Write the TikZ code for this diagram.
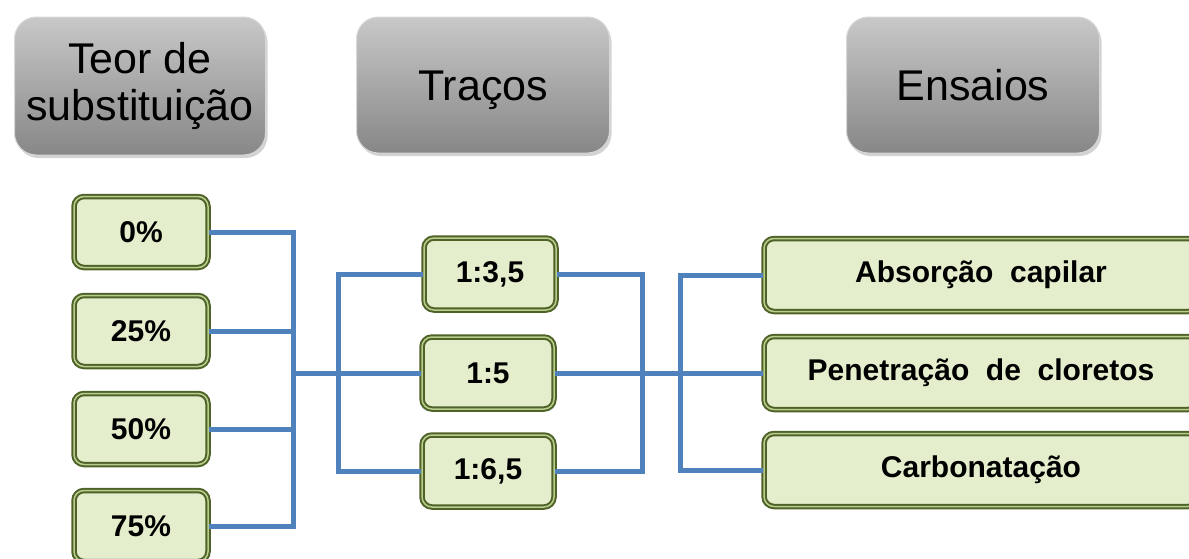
\documentclass[tikz,border=0pt]{standalone}
\usepackage{fontspec}
\setmainfont{Liberation Sans}
\usetikzlibrary{shadows}
\definecolor{linkblue}{RGB}{79,129,189}
\definecolor{boxolive}{RGB}{79,98,40}
\definecolor{boxgreen}{RGB}{228,238,204}
\definecolor{rimgreen}{RGB}{185,205,140}
\definecolor{graytop}{RGB}{200,200,200}
\definecolor{graybot}{RGB}{135,135,135}
\tikzset{
  headbox/.style={rounded corners=22pt, top color=graytop, bottom color=graybot,
    draw={rgb,255:red,215;green,215;blue,215}, line width=1pt,
    drop shadow={opacity=0.35, shadow xshift=2pt, shadow yshift=-3pt},
    align=center, font=\fontsize{43}{47}\selectfont, inner sep=0pt},
  oneline/.style={text height=31pt, text depth=0pt},
  greenbox/.style={rounded corners=10pt, fill=boxgreen, draw=boxolive, line width=2pt,
    double=rimgreen, double distance=1.5pt,
    font=\fontsize{30}{34}\selectfont\bfseries, inner sep=0pt},
  link/.style={draw=linkblue, line width=5pt}
}
\begin{document}
\begin{tikzpicture}[x=1pt,y=-1pt]
\useasboundingbox (0,0) rectangle (1189,558);
\begin{scope}
\clip (0,0) rectangle (1189,558);
% headers
\node[headbox, minimum width=251pt, minimum height=138pt] (teor) at (140,86) {Teor de\\substituição};
\node[headbox, oneline, minimum width=253pt, minimum height=136pt] (tracos) at (483,85) {Traços};
\node[headbox, oneline, minimum width=253pt, minimum height=136pt] (ensaios) at (973,85) {Ensaios};
% junction coordinates
\coordinate (b1) at (293,373);
\coordinate (b2) at (338,373);
\coordinate (b3) at (642,373);
\coordinate (b4) at (680,373);
% left boxes
\node[greenbox, minimum width=134pt, minimum height=71pt] (p0) at (141,232) {0\%};
\node[greenbox, minimum width=134pt, minimum height=71pt] (p25) at (141,331) {25\%};
\node[greenbox, minimum width=134pt, minimum height=71pt] (p50) at (141,429) {50\%};
\node[greenbox, minimum width=134pt, minimum height=71pt] (p75) at (141,526) {75\%};
% middle boxes
\node[greenbox, minimum width=132pt, minimum height=72pt] (t35) at (490,274) {1:3,5};
\node[greenbox, minimum width=132pt, minimum height=72pt] (t5) at (488,373) {1:5};
\node[greenbox, minimum width=132pt, minimum height=72pt] (t65) at (488,471) {1:6,5};
% right boxes
\node[greenbox, minimum width=434pt, minimum height=73pt] (e1) at (981,275) {Absorção\ \ capilar};
\node[greenbox, minimum width=434pt, minimum height=73pt] (e2) at (981,373) {Penetração\ \ de\ \ cloretos};
\node[greenbox, minimum width=434pt, minimum height=73pt] (e3) at (981,470) {Carbonatação};
% connectors
\draw[link] (p0.east) -| (b1);
\draw[link] (p25.east) -| (b1);
\draw[link] (p50.east) -| (b1);
\draw[link] (p75.east) -| (b1);
\draw[link] (b1) -- (t5.west);
\draw[link] (b2) |- (t35.west);
\draw[link] (b2) |- (t65.west);
\draw[link] (t35.east) -| (b3);
\draw[link] (t65.east) -| (b3);
\draw[link] (t5.east) -- (e2.west);
\draw[link] (b4) |- (e1.west);
\draw[link] (b4) |- (e3.west);
\end{scope}
\end{tikzpicture}
\end{document}
